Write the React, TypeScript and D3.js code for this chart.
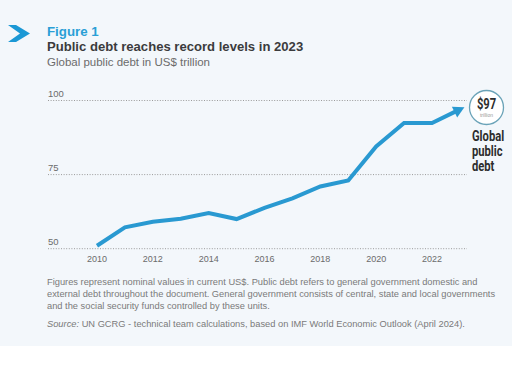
import React from "react";
import * as d3 from "d3";

const years = [2010, 2011, 2012, 2013, 2014, 2015, 2016, 2017, 2018, 2019, 2020, 2021, 2022, 2023];
const debt = [51.0, 57.2, 59.1, 60.1, 62.0, 60.0, 63.8, 67.0, 71.0, 73.0, 84.5, 92.4, 92.4, 97.0];
const yTicks = [50, 75, 100];
const xTicks = [2010, 2012, 2014, 2016, 2018, 2020, 2022];
const footnote = [
  "Figures represent nominal values in current US$. Public debt refers to general government domestic and",
  "external debt throughout the document. General government consists of central, state and local governments",
  "and the social security funds controlled by these units.",
];
const labelLines = ["Global", "public", "debt"];

export default function App() {
  const W = 512, H = 378;
  const x = d3.scaleLinear().domain([2010, 2022]).range([97, 432]);
  const y = d3.scaleLinear().domain([50, 100]).range([248.7, 100.5]);
  const line = d3.line<number>().x((_, i) => x(years[i])).y((d) => y(d));
  const blue = "#2999d1";
  const font = "'Liberation Sans', Arial, sans-serif";
  const cond = "'Roboto', 'Liberation Sans', sans-serif";
  const n = years.length;
  const xe = x(years[n - 1]), ye = y(debt[n - 1]);
  const xp = x(years[n - 2]), yp = y(debt[n - 2]);
  const ang = Math.atan2(ye - yp, xe - xp);
  const tipLen = 11, half = 6;
  const tip = [xe + Math.cos(ang) * 5, ye + Math.sin(ang) * 5];
  const base = [tip[0] - Math.cos(ang) * tipLen, tip[1] - Math.sin(ang) * tipLen];
  const p1 = [base[0] + Math.sin(ang) * half, base[1] - Math.cos(ang) * half];
  const p2 = [base[0] - Math.sin(ang) * half, base[1] + Math.cos(ang) * half];
  const lineEnd = [base[0] + Math.cos(ang) * 2, base[1] + Math.sin(ang) * 2];
  const pathD = line(debt.slice(0, n - 1)) + `L${lineEnd[0]},${lineEnd[1]}`;
  const sx = 0.8;
  return (
    <svg width={W} height={H} style={{ position: "absolute", left: 0, top: 0 }}>
      <rect x={0} y={0} width={W} height={H} fill="#ffffff" />
      <rect x={0} y={0} width={W} height={346} fill="#f3f7fb" />
      <path d="M8,25 L16,25 L30,33.5 L16,42 L8,42 L20,33.5 Z" fill="#1b98d5" />
      <text x={47} y={36} fontFamily={font} fontWeight="bold" fontSize={13.3} fill="#2a9fd6">Figure 1</text>
      <text x={47} y={51} fontFamily={font} fontWeight="bold" fontSize={13.1} fill="#3b3b3d">Public debt reaches record levels in 2023</text>
      <text x={47} y={66} fontFamily={font} fontSize={11.5} fill="#6b6b6b">Global public debt in US$ trillion</text>
      {yTicks.map((t) => (
        <g key={t}>
          <line x1={48} x2={467} y1={y(t)} y2={y(t)} stroke="#9a9a9a" strokeWidth={1} strokeDasharray="1,1.6" />
          <text x={48} y={y(t) - 4} fontFamily={font} fontSize={9.5} fill="#6b6b6b">{t}</text>
        </g>
      ))}
      {xTicks.map((t) => (
        <text key={t} x={x(t)} y={262} textAnchor="middle" fontFamily={font} fontSize={9} fill="#6b6b6b">{t}</text>
      ))}
      <path d={pathD} fill="none" stroke={blue} strokeWidth={4} strokeLinejoin="miter" />
      <polygon points={`${tip[0]},${tip[1]} ${p1[0]},${p1[1]} ${p2[0]},${p2[1]}`} fill={blue} />
      <circle cx={486.5} cy={107.5} r={17} fill="#ffffff" stroke="#6aa3b8" strokeWidth={1.3} />
      <g transform={`translate(486.5,109) scale(${sx},1)`}>
        <text x={0} y={0} textAnchor="middle" fontFamily={cond} fontWeight="bold" fontSize={14} fill="#2d2d2d">$97</text>
      </g>
      <text x={486.5} y={116.5} textAnchor="middle" fontFamily={font} fontSize={5} fill="#999">trillion</text>
      {labelLines.map((s, i) => (
        <g key={s} transform={`translate(472,${141 + i * 15}) scale(${sx},1)`}>
          <text x={0} y={0} fontFamily={cond} fontWeight="bold" fontSize={14} fill="#2d2d2d">{s}</text>
        </g>
      ))}
      {footnote.map((s, i) => (
        <text key={i} x={47} y={285 + i * 12} fontFamily={font} fontSize={9.3} fill="#7a7a7a">{s}</text>
      ))}
      <text x={47} y={327} fontFamily={font} fontSize={9.3} fill="#7a7a7a">
        <tspan fontStyle="italic">Source:</tspan>
        <tspan>{"  UN GCRG - technical team calculations, based on IMF World Economic Outlook (April 2024)."}</tspan>
      </text>
    </svg>
  );
}
